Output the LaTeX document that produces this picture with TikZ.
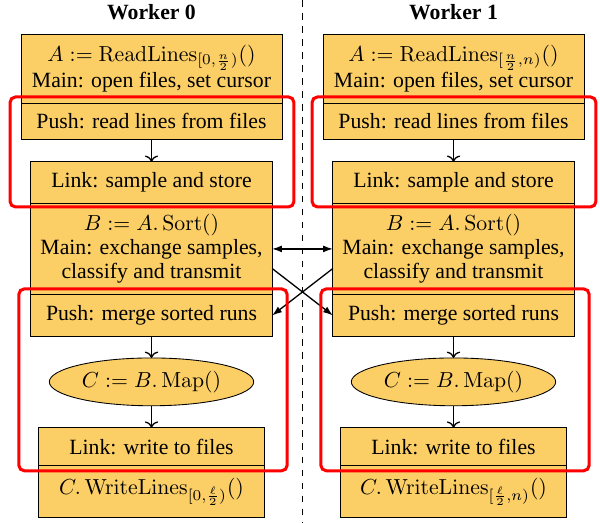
\documentclass[tikz,border=0pt]{standalone}
\usepackage[no-math]{fontspec}
\setmainfont{Liberation Serif}
\usepackage{amsmath}
\usetikzlibrary{calc,positioning,shapes.geometric,arrows.meta}

\definecolor{boxfill}{RGB}{252,207,102}
\tikzset{
  part/.style={draw, fill=boxfill, align=center, inner sep=1pt, outer sep=0pt,
    font=\fontsize{10}{11}\selectfont},
  partA/.style={part, minimum width=120pt},
  partB/.style={part, minimum width=111pt},
  partC/.style={part, minimum width=104pt},
  mapnode/.style={draw, fill=boxfill, ellipse, inner sep=0pt, outer sep=0pt,
    minimum width=94pt, minimum height=22pt},
  redbox/.style={draw=red, line width=1.4pt, rounded corners=2.5pt},
  title/.style={font=\bfseries},
  tip/.style={-{Latex[length=4.5pt,width=3.2pt]}, semithick},
  twotip/.style={{Latex[length=4.5pt,width=3.2pt]}-{Latex[length=4.5pt,width=3.2pt]}, semithick},
}

\begin{document}
\begin{tikzpicture}[x=0.46pt, y=-0.46pt, node distance=10.1pt]
  \useasboundingbox (0,0) rectangle (600,523);
  \def\colSep{302}

  % Worker 0: nodes
  \node[title] (w0) at (151.5,12) {Worker 0};
  \node[partA, minimum height=31.7pt] (a0main) at (151.5,68.5) %
  {$A := \operatorname{ReadLines}_{[0,\frac{n}{2})}()$\\Main: open files, set cursor};
  \node[partA, minimum height=17pt, below=0pt of a0main] (a0push) %
  {Push: read lines from files};
  \node[partB, minimum height=18.9pt, below=of a0push] (b0link) %
  {Link: sample and store};
  \node[partB, minimum height=42.3pt, below=0pt of b0link] (b0main) %
  {$B := A.\operatorname{Sort}()$\\Main: exchange samples,\\classify and transmit};
  \node[partB, minimum height=18.9pt, below=0pt of b0main] (b0push) %
  {Push: merge sorted runs};
  \node[mapnode, below=of b0push] (c0map) {$C := B.\operatorname{Map}()$};
  \node[partC, minimum height=17.5pt, below=of c0map] (c0link) %
  {Link: write to files};
  \node[partC, minimum height=23.9pt, below=0pt of c0link] (c0write) %
  {$C.\operatorname{WriteLines}_{[0,\frac{\ell}{2})}()$};

  % Worker 1: nodes
  \node[title] (w1) at ($(w0)+(\colSep,0)$) {Worker 1};
  \node[partA, minimum height=31.7pt] (a1main) at ($(a0main)+(\colSep,0)$) %
  {$A := \operatorname{ReadLines}_{[\frac{n}{2},n)}()$\\Main: open files, set cursor};
  \node[partA, minimum height=17pt, below=0pt of a1main] (a1push) %
  {Push: read lines from files};
  \node[partB, minimum height=18.9pt, below=of a1push] (b1link) %
  {Link: sample and store};
  \node[partB, minimum height=42.3pt, below=0pt of b1link] (b1main) %
  {$B := A.\operatorname{Sort}()$\\Main: exchange samples,\\classify and transmit};
  \node[partB, minimum height=18.9pt, below=0pt of b1main] (b1push) %
  {Push: merge sorted runs};
  \node[mapnode, below=of b1push] (c1map) {$C := B.\operatorname{Map}()$};
  \node[partC, minimum height=17.5pt, below=of c1map] (c1link) %
  {Link: write to files};
  \node[partC, minimum height=23.9pt, below=0pt of c1link] (c1write) %
  {$C.\operatorname{WriteLines}_{[\frac{\ell}{2},n)}()$};

  % Divider between workers
  \coordinate (divtop) at (\colSep,0);
  \coordinate (divbot) at (\colSep,523);
  \draw[dashed] (divtop) -- (divbot);

  % Worker 0: connections
  \draw[->, semithick] (a0push) -- (b0link);
  \draw[->, semithick] (b0push) -- (c0map);
  \draw[->, semithick] (c0map) -- (c0link);

  % Worker 1: connections
  \draw[->, semithick] (a1push) -- (b1link);
  \draw[->, semithick] (b1push) -- (c1map);
  \draw[->, semithick] (c1map) -- (c1link);

  % Exchange between workers
  \draw[twotip] (b0main) -- (b1main);
  \draw[tip] ([yshift=-9pt]b0main.east) -- (b1push.west);
  \draw[tip] ([yshift=-9pt]b1main.west) -- (b0push.east);

  % Stage groups
  \draw[redbox] ($(a0push.north west)+(-11,-6)$) rectangle %
  ($(b0link.south -| a0push.east)+(12,4)$);
  \draw[redbox] ($(a1push.north west)+(-11,-6)$) rectangle %
  ($(b1link.south -| a1push.east)+(12,4)$);
  \draw[redbox] ($(b0push.north west)+(-12,-6)$) rectangle %
  ($(c0link.south -| b0push.east)+(15,5)$);
  \draw[redbox] ($(b1push.north west)+(-12,-6)$) rectangle %
  ($(c1link.south -| b1push.east)+(15,5)$);
\end{tikzpicture}
\end{document}
